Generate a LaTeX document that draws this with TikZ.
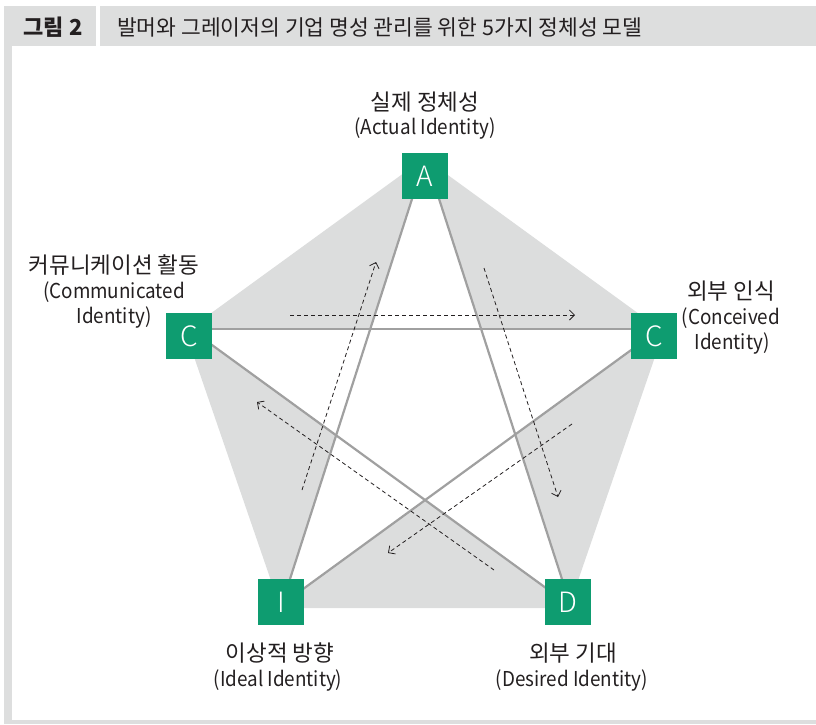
\documentclass[tikz,border=0pt]{standalone}
\usepackage{fontspec}
\setmainfont{Noto Sans CJK KR}
\newfontfamily\engfont[FakeStretch=0.92]{Noto Sans CJK KR}
\newfontfamily\lightfont{Noto Sans CJK KR Light}
\usetikzlibrary{arrows.meta}
\definecolor{hdr}{HTML}{DDDEDE}
\definecolor{pent}{HTML}{DCDDDD}
\definecolor{grn}{HTML}{0E9C70}
\definecolor{starc}{HTML}{A0A0A0}
\definecolor{ink}{HTML}{231F20}
\begin{document}
\begin{tikzpicture}[x=1pt,y=-1pt,
  box/.style={fill=grn, minimum size=46pt, inner sep=0pt, text=white, font=\lightfont\fontsize{28}{28}\selectfont},
  kor/.style={text=ink, font=\fontsize{22.5}{26}\selectfont, inner sep=0pt},
  eng/.style={text=ink, font=\engfont\fontsize{20.5}{24}\selectfont, inner sep=0pt},
  starline/.style={draw=starc, line width=2.2pt},
  dasharrow/.style={draw=ink, line width=0.8pt, dash pattern=on 4pt off 3pt, -{Straight Barb[length=5pt,width=10pt]}}]
\useasboundingbox (0,0) rectangle (816,724);
% frame
\fill[hdr] (4,6) rectangle (96,46);
\fill[hdr] (100,6) rectangle (816,46);
\fill[hdr] (4,46) rectangle (12,720);
\fill[hdr] (4,720) rectangle (816,724);
\node[text=ink, inner sep=0pt, font=\fontsize{22}{26}\selectfont\bfseries] (fig) at (53,27) {그림 2};
\node[text=ink, inner sep=0pt, font=\fontsize{21.5}{26}\selectfont, anchor=west] (title) at (117,27) {발머와 그레이저의 기업 명성 관리를 위한 5가지 정체성 모델};
% pentagon
\fill[pent] (424.5,158) -- (663.6,331.8) -- (568.6,608) -- (280.4,608) -- (185.4,331.8) -- cycle;
% star vertices
\coordinate (sA) at (425.5,157);
\coordinate (sCL) at (190,329);
\coordinate (sCR) at (660,329);
\coordinate (sI) at (281.8,604.5);
\coordinate (sD) at (570.7,606);
\fill[white] (sA) -- (sI) -- (sCR) -- (sCL) -- (sD) -- cycle;
\draw[starline] (sA) -- (sI);
\draw[starline] (sA) -- (sD);
\draw[starline] (sCL) -- (sCR);
\draw[starline] (sCL) -- (sD);
\draw[starline] (sCR) -- (sI);
% dashed arrows
\coordinate (d1s) at (290,315); \coordinate (d1e) at (575,315);
\coordinate (d2s) at (302,490); \coordinate (d2e) at (376,262);
\coordinate (d3s) at (484,268); \coordinate (d3e) at (558,497);
\coordinate (d4s) at (572,424); \coordinate (d4e) at (388,553);
\coordinate (d5s) at (494,570); \coordinate (d5e) at (257,402);
\draw[dasharrow] (d1s) -- (d1e);
\draw[dasharrow] (d2s) -- (d2e);
\draw[dasharrow] (d3s) -- (d3e);
\draw[dasharrow] (d4s) -- (d4e);
\draw[dasharrow] (d5s) -- (d5e);
% squares
\node[box] (A) at (425,176) {A};
\node[box] (CL) at (189,336) {C};
\node[box] (CR) at (654,336) {C};
\node[box] (I) at (281,602) {I};
\node[box] (D) at (568,602) {D};
% labels
\node[kor] (lA1) at (425,102) {실제 정체성};
\node[eng] (lA2) at (425,129) {(Actual Identity)};
\node[kor] (lCL1) at (114,265) {커뮤니케이션 활동};
\node[eng] (lCL2) at (114,292) {(Communicated};
\node[eng] (lCL3) at (114,318) {Identity)};
\node[kor] (lCR1) at (731,291) {외부 인식};
\node[eng] (lCR2) at (731,318) {(Conceived};
\node[eng] (lCR3) at (732,344) {Identity)};
\node[kor] (lI1) at (280,653) {이상적 방향};
\node[eng] (lI2) at (278,680) {(Ideal Identity)};
\node[kor] (lD1) at (573,653) {외부 기대};
\node[eng] (lD2) at (572,680) {(Desired Identity)};
\end{tikzpicture}
\end{document}
